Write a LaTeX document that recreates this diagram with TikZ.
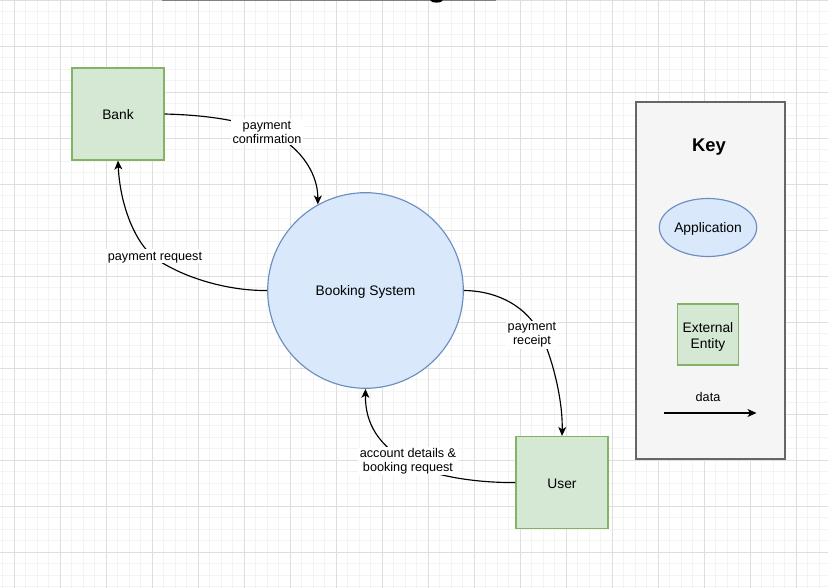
\documentclass[tikz,border=0pt]{standalone}
\usepackage{fontspec}
\setmainfont{Liberation Sans}
\usetikzlibrary{arrows.meta,shapes.geometric}
\definecolor{entfill}{HTML}{D5E8D4}
\definecolor{entdraw}{HTML}{82B366}
\definecolor{appfill}{HTML}{DAE8FC}
\definecolor{appdraw}{HTML}{6C8EBF}
\definecolor{keyfill}{HTML}{F5F5F5}
\definecolor{keydraw}{HTML}{666666}
\definecolor{gridmajor}{HTML}{DEDEDE}
\definecolor{gridminor}{HTML}{F3F3F3}
\begin{document}
\begin{tikzpicture}[x=1pt,y=-1pt,
  nodefont/.style={font=\fontsize{13.8pt}{16pt}\selectfont},
  oneline/.style={text height=11pt, text depth=0pt},
  labelfont/.style={font=\fontsize{12.65pt}{14pt}\selectfont},
  onelabel/.style={text height=10pt, text depth=1pt},
  entity/.style={draw=entdraw, fill=entfill, line width=1.15pt, minimum width=92pt, minimum height=92pt, inner sep=0pt, nodefont, oneline},
  process/.style={circle, draw=appdraw, fill=appfill, line width=1.15pt, minimum size=195.6pt, inner sep=0pt, nodefont, oneline},
  flowlabel/.style={fill=white, inner sep=1.5pt, labelfont, align=center},
  flow/.style={draw=black, line width=1.15pt, -{Stealth[length=9pt,width=8pt,inset=2.5pt]}},
  minorgrid/.style={draw=gridminor, line width=0.8pt},
  majorgrid/.style={draw=gridmajor, line width=0.8pt}
]
\useasboundingbox (0,0) rectangle (828,588);
\fill[white] (0,0) rectangle (828,588);
% grid
\foreach \i in {-1,...,72} \draw[minorgrid] ({14.3+11.5*\i},0) -- ++(0,588);
\foreach \i in {0,...,51} \draw[minorgrid] (0,{11.5*\i}) -- ++(828,0);
\foreach \i in {0,...,17} \draw[majorgrid] ({14.3+46*\i},0) -- ++(0,588);
\foreach \i in {0,...,12} \draw[majorgrid] (0,{46*\i}) -- ++(828,0);
% cut-off title rule at the top
\draw[draw=gray, line width=1.2pt] (162,0.6) -- (496,0.6);
\fill[black] (436.5,0) ellipse (6.5 and 2.6);

% main nodes
\node[entity] (bank) at (118,114) {Bank};
\node[process] (bs) at (365.5,290.5) {Booking System};
\node[entity] (user) at (562,482.5) {User};

% flows
\draw[flow] (bank.east) .. controls (205,115) and (240,120) .. (267,131)
  .. controls (296,143) and (318,170) .. (bs.119);
\draw[flow] (bs.west) .. controls (225,291) and (180,276) .. (155,258)
  .. controls (135,243) and (120,205) .. (bank.south);
\draw[flow] (bs.east) .. controls (500,291) and (527,308) .. (540,333)
  .. controls (552,356) and (563,400) .. (user.north);
\draw[flow] (user.west) .. controls (480,483) and (432,477) .. (408,462)
  .. controls (380,446) and (365,425) .. (bs.south);

% flow labels
\node[flowlabel] (l1) at (267,132) {payment\\confirmation};
\node[flowlabel, onelabel] (l2) at (155,256) {payment request};
\node[flowlabel] (l3) at (532,335) {payment\\receipt};
\node[flowlabel] (l4) at (408,461) {account details \&\\booking request};

% key
\node[draw=keydraw, fill=keyfill, line width=1.15pt, minimum width=149pt, minimum height=357pt, inner sep=0pt] (key) at (710.5,280.5) {};
\node[font=\fontsize{18.4pt}{20pt}\selectfont\bfseries, text height=13.2pt, text depth=0pt, inner sep=0pt] (keytitle) at (709,145) {Key};
\node[ellipse, draw=appdraw, fill=appfill, line width=1.15pt, minimum width=97.4pt, minimum height=58pt, inner sep=0pt, nodefont, oneline] (keyapp) at (708,227.5) {Application};
\node[draw=entdraw, fill=entfill, line width=1.15pt, minimum width=61.4pt, minimum height=61pt, inner sep=0pt,
  label={[nodefont, align=center, yshift=-2pt]center:{External\\Entity}}] (keyent) at (708,334.5) {};
\node[labelfont, onelabel] (keydata) at (708,397) {data};
\coordinate (da) at (664,413);
\coordinate (db) at (756.5,413);
\draw[flow] (da) -- (db);
\end{tikzpicture}
\end{document}
